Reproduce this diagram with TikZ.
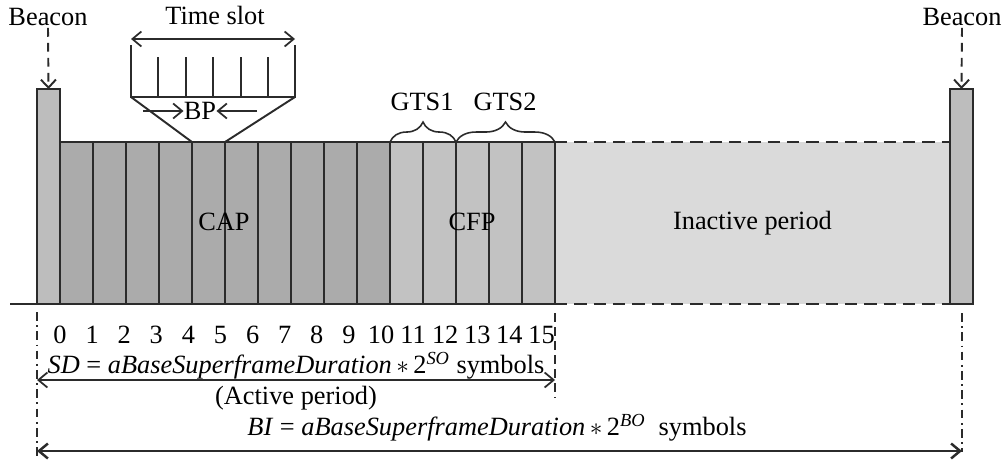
\documentclass[tikz,border=0pt]{standalone}
\usepackage{fontspec}
\setmainfont{Liberation Serif}
\usetikzlibrary{arrows.meta,decorations.pathreplacing}
\definecolor{ink}{HTML}{2B2B2B}
\definecolor{capgray}{HTML}{ABABAB}
\definecolor{cfpgray}{HTML}{C2C2C2}
\definecolor{bcngray}{HTML}{BDBDBD}
\definecolor{idlegray}{HTML}{DADADA}
\begin{document}
\begin{tikzpicture}[x=0.02cm, y=-0.02cm, font=\fontsize{15}{18}\selectfont,
        frameline/.style={line width=1.1pt, draw=ink},
        slotbox/.style={frameline, inner sep=0pt, outer sep=0pt, anchor=south west, minimum width=0.66cm, minimum height=3.24cm},
        bcnbox/.style={slotbox, fill=bcngray, minimum width=0.46cm, minimum height=4.3cm},
        barbto/.style={line width=1pt, draw=ink, -{Straight Barb[length=1.8mm, width=3mm]}},
        barbed/.style={barbto, {Straight Barb[length=1.8mm, width=3mm]}-{Straight Barb[length=1.8mm, width=3mm]}},
        dasharrow/.style={line width=1.1pt, draw=ink, dash pattern=on 5pt off 3.5pt, -{Straight Barb[length=1.6mm, width=3mm]}},
        dimline/.style={line width=0.9pt, draw=ink, dash pattern=on 5pt off 2.5pt on 1pt off 2.5pt},
        gtsbrace/.style={line width=0.9pt, draw=ink, decorate, decoration={brace, amplitude=0.4cm}}]
    \useasboundingbox (0,0) rectangle (1007,463);

    % frame
    \node[slotbox, fill=idlegray, draw=none, minimum width=7.9cm] (idle) at (555,304) {Inactive period};
    \foreach \i in {1,...,15} {
        \ifnum\i<11 \def\slotcol{capgray}\else\def\slotcol{cfpgray}\fi
        \node[slotbox, fill=\slotcol] (s\i) at ({60+33*(\i-1)},304) {};
    }
    \node[bcnbox] (bcnL) at (37,304) {};
    \node[bcnbox] (bcnR) at (950,304) {};
    \coordinate (base) at (10,304);
    \draw[frameline, line width=1.6pt] (base) -- (s15.south east);
    \draw[frameline, dash pattern=on 7pt off 4pt] (idle.north west) -- (idle.north east);
    \draw[frameline, dash pattern=on 7pt off 4pt] (idle.south west) -- (idle.south east);
    \node (cap) at (224,222) {CAP};
    \node (cfp) at (472,222) {CFP};

    % beacons
    \node (bcnTxtL) at (48,17) {Beacon};
    \node (bcnTxtR) at (962,17) {Beacon};
    \draw[dasharrow] (bcnTxtL.south) ++(0,-4) -- (bcnL.north);
    \draw[dasharrow] (bcnTxtR.south) ++(0,-4) -- (bcnR.north);

    % time slot zoom
    \node (tslot) at (215,15) {Time slot};
    \coordinate (zL) at (131,97);
    \coordinate (zR) at (295,97);
    \draw[frameline] (131,45) -- (zL) -- (zR) -- (295,45);
    \foreach \x in {158,186,213,241,268}
        \draw[frameline] (\x,57) -- (\x,97);
    \draw[frameline] (zL) -- (s5.north west);
    \draw[frameline] (zR) -- (s5.north east);
    \draw[barbed] (131,39) -- (295,39);
    \node[inner sep=0pt] (bp) at (200,111) {BP};
    \draw[barbto] (143,111) -- (bp.west);
    \draw[barbto] (257,111) -- (bp.east);

    % GTS
    \draw[gtsbrace] (s11.north west) -- (s12.north east);
    \draw[gtsbrace] (s13.north west) -- (s15.north east);
    \node (gts1) at (422,102) {GTS1};
    \node (gts2) at (505,102) {GTS2};

    % slot numbers
    \foreach \i in {0,...,15}
        \node[inner sep=0pt] (num\i) at ({60+32.1*\i},335) {\i};

    % durations
    \coordinate (dimA) at (37,312);
    \coordinate (dimB) at (555,313);
    \coordinate (dimC) at (962,313);
    \draw[dimline] (dimA) -- (37,457);
    \draw[dimline, dash pattern=on 5pt off 3pt] (dimB) -- (555,398);
    \draw[dimline] (dimC) -- (962,452);
    \draw[barbed] (37,380) -- (555,380);
    \draw[barbed, line width=1.4pt] (37,451) -- (962,451);
    \node (sd) at (296,366) {\textit{SD} = \textit{aBaseSuperframeDuration}\,$\ast$\,2\textsuperscript{\textit{SO}} symbols};
    \node (active) at (296,398) {(Active period)};
    \node (bi) at (497,428) {\textit{BI} = \textit{aBaseSuperframeDuration}\,$\ast$\,2\textsuperscript{\textit{BO}}\enspace symbols};
\end{tikzpicture}
\end{document}
